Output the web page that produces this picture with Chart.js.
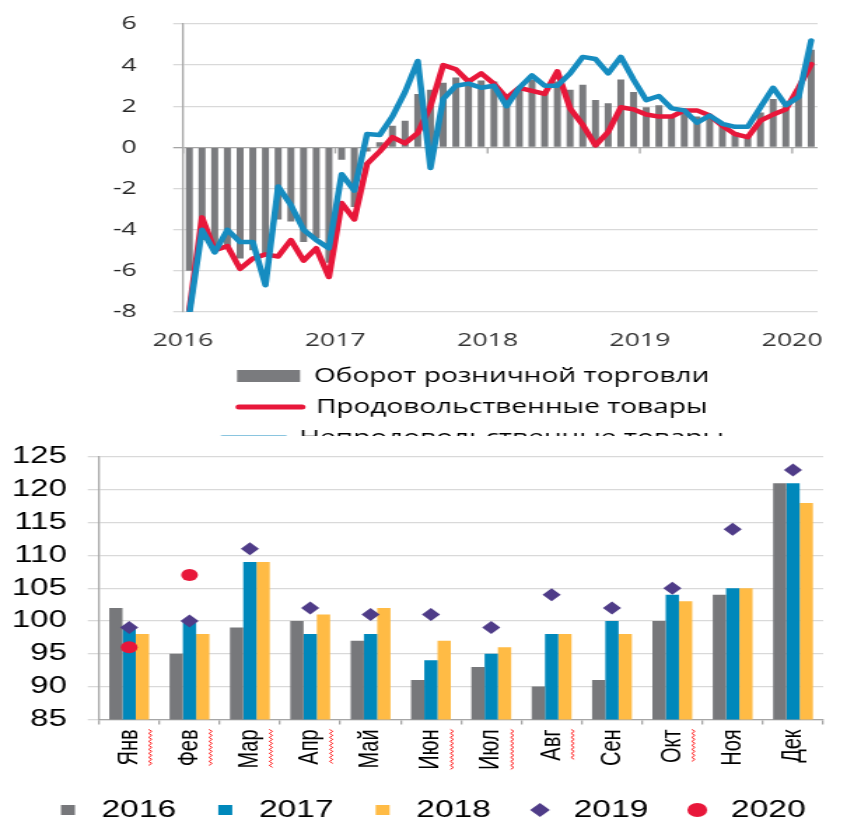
<!DOCTYPE html>
<html lang="ru">
<head>
  <meta charset="UTF-8">
  <title>Оборот розничной торговли</title>
  <script src="https://cdn.jsdelivr.net/npm/chart.js"></script>
  <style>
    html, body { margin: 0; padding: 0; background: #fff; overflow: hidden; }
    .wrap { position: absolute; left: 0; width: 605px; overflow: hidden; transform: scaleX(1.4); transform-origin: 0 0; }
    #top-wrap { top: 0; height: 436px; }
    #bottom-wrap { top: 436px; height: 387px; }
    canvas { display: block; }
  </style>
</head>
<body>
  <div class="wrap" id="top-wrap"><canvas id="trade-chart" width="605" height="458"></canvas></div>
  <div class="wrap" id="bottom-wrap"><canvas id="month-chart" width="605" height="396"></canvas></div>
  <script>
    // --- top chart: y/y change, % (Jan 2016 .. Feb 2020)
    const yearLabels = ['2016', '2017', '2018', '2019', '2020'];
    const yearStarts = [0, 12, 24, 36, 48];
    const tradeTicks = [-8, -6, -4, -2, 0, 2, 4, 6];
    const tradeNames = ['Оборот розничной торговли', 'Продовольственные товары', 'Непродовольственные товары'];
    const retail = [-6.0, -4.5, -5.0, -4.8, -5.4, -5.0, -5.3, -3.5, -3.6, -4.6, -4.4, -5.6,
      -0.6, -2.9, -0.2, 0.25, 1.05, 1.3, 2.6, 2.8, 3.15, 3.4, 3.25, 3.25,
      3.2, 2.5, 2.9, 3.3, 2.7, 3.2, 2.8, 3.05, 2.3, 2.15, 3.3, 2.7,
      1.95, 2.05, 1.5, 1.8, 1.5, 1.45, 1.05, 0.75, 0.55, 1.7, 2.35, 2.0,
      2.6, 4.75];
    const food = [-7.9, -3.4, -5.0, -4.8, -5.9, -5.4, -5.2, -5.3, -4.5, -5.5, -4.9, -6.3,
      -2.7, -3.5, -0.8, -0.2, 0.5, 0.2, 0.7, 2.0, 4.0, 3.8, 3.2, 3.6,
      3.1, 2.4, 2.9, 2.75, 2.6, 3.7, 1.9, 1.1, 0.1, 0.75, 1.95, 1.85,
      1.6, 1.5, 1.5, 1.8, 1.8, 1.55, 1.05, 0.65, 0.5, 1.3, 1.6, 1.85,
      2.9, 4.05];
    const nonFood = [-8.1, -4.0, -5.1, -4.0, -4.6, -4.6, -6.7, -1.9, -2.8, -4.0, -4.5, -4.9,
      -1.3, -2.1, 0.65, 0.6, 1.5, 2.7, 4.2, -1.0, 2.35, 3.0, 3.1, 2.9,
      3.0, 2.0, 2.9, 3.5, 3.0, 3.0, 3.6, 4.4, 4.3, 3.6, 4.4, 3.3,
      2.3, 2.5, 1.9, 1.8, 1.2, 1.55, 1.15, 1.0, 1.0, 1.95, 2.9, 2.05,
      2.45, 5.2];

    // --- bottom chart: index by month
    const months = ['Янв', 'Фев', 'Мар', 'Апр', 'Май', 'Июн', 'Июл', 'Авг', 'Сен', 'Окт', 'Ноя', 'Дек'];
    const spellMarked = ['Янв', 'Фев', 'Мар', 'Апр', 'Июн', 'Июл', 'Авг', 'Окт'];
    const monthTicks = [85, 90, 95, 100, 105, 110, 115, 120, 125];
    const idx2016 = [102, 95, 99, 100, 97, 91, 93, 90, 91, 100, 104, 121];
    const idx2017 = [99, 100, 109, 98, 98, 94, 95, 98, 100, 104, 105, 121];
    const idx2018 = [98, 98, 109, 101, 102, 97, 96, 98, 98, 103, 105, 118];
    const idx2019 = [99, 100, 111, 102, 101, 101, 99, 104, 102, 105, 114, 123];
    const idx2020 = [96, 107, null, null, null, null, null, null, null, null, null, null];

    const topFont = '"Open Sans", sans-serif';
    const botFont = '"Liberation Sans", Arial, sans-serif';
    const toPoints = arr => arr.map((v, i) => ({ x: i + 0.5, y: v }));

    const yearMarks = {
      id: 'yearMarks',
      beforeDatasetsDraw(chart) {
        const { ctx, scales: { x, y } } = chart;
        const y0 = y.getPixelForValue(0);
        ctx.save();
        ctx.strokeStyle = '#a5a5a5';
        ctx.lineWidth = 1.3;
        yearStarts.forEach(v => {
          const px = x.getPixelForValue(v);
          ctx.beginPath();
          ctx.moveTo(px, y0);
          ctx.lineTo(px, y0 + 6);
          ctx.stroke();
        });
        ctx.restore();
      }
    };

    // the legends are not centred in the original
    const legendShift = dx => ({
      id: 'legendShift',
      afterLayout(chart) {
        chart.legend.left += dx;
        chart.legend.right += dx;
      }
    });

    new Chart(document.getElementById('trade-chart'), {
      type: 'bar',
      data: {
        datasets: [
          { type: 'bar', label: tradeNames[0], data: toPoints(retail), backgroundColor: '#7a7b7e',
            barPercentage: 0.55, categoryPercentage: 1, order: 3 },
          { type: 'line', label: tradeNames[1], data: toPoints(food), borderColor: '#e8173a', borderWidth: 4.5,
            pointRadius: 0, tension: 0, borderJoinStyle: 'round', borderCapStyle: 'round', order: 2 },
          { type: 'line', label: tradeNames[2], data: toPoints(nonFood), borderColor: '#168cc0', borderWidth: 4.5,
            pointRadius: 0, tension: 0, borderJoinStyle: 'round', borderCapStyle: 'round', order: 1 }
        ]
      },
      options: {
        responsive: false,
        animation: false,
        layout: { padding: { left: 0, right: 11, top: 24, bottom: 0 } },
        plugins: {
          tooltip: { enabled: false },
          legend: {
            position: 'bottom',
            labels: {
              usePointStyle: true, pointStyleWidth: 45, boxHeight: 12, padding: 11,
              color: '#262626', font: { family: topFont, size: 20 },
              generateLabels: chart => chart.data.datasets.map((ds, i) => ({
                text: ds.label,
                fillStyle: ds.type === 'line' ? ds.borderColor : ds.backgroundColor,
                strokeStyle: ds.type === 'line' ? ds.borderColor : ds.backgroundColor,
                lineWidth: ds.type === 'line' ? 5 : 0,
                lineCap: 'round',
                pointStyle: ds.type === 'line' ? 'line' : 'rect',
                hidden: false,
                datasetIndex: i
              }))
            }
          }
        },
        scales: {
          x: {
            type: 'linear', min: 0, max: retail.length, offset: false,
            afterBuildTicks: s => { s.ticks = yearStarts.map(v => ({ value: v })); },
            afterFit: s => { s.height = 43; },
            grid: { display: false, drawTicks: false },
            border: { display: false },
            ticks: { padding: 17, maxRotation: 0, autoSkip: false, color: '#333',
              font: { family: topFont, size: 19 }, callback: (v, i) => yearLabels[i] }
          },
          y: {
            min: -8, max: 6,
            afterBuildTicks: s => { s.ticks = tradeTicks.map(v => ({ value: v })); },
            afterFit: s => { s.width = 130.7; s.paddingTop = 12; s.paddingBottom = 12; },
            grid: { color: c => (c.tick && c.tick.value === 0 ? '#a5a5a5' : '#d9d9d9'), lineWidth: 1.3, tickLength: 7 },
            border: { color: '#a5a5a5', width: 1.3 },
            ticks: { padding: 26, autoSkip: false, color: '#262626', font: { family: topFont, size: 19 } }
          }
        }
      },
      plugins: [yearMarks, legendShift(41)]
    });

    // red wavy spell-check underline next to some month labels
    const spellMarks = {
      id: 'spellMarks',
      afterDraw(chart) {
        const { ctx, scales: { x } } = chart;
        const o = x.options;
        ctx.save();
        ctx.font = o.ticks.font.size + 'px ' + botFont;
        ctx.strokeStyle = '#ff1a1a';
        ctx.lineWidth = 1;
        months.forEach((m, i) => {
          if (!spellMarked.includes(m)) return;
          const px = x.getPixelForTick(i) + 15;
          const y0 = x.top + o.grid.tickLength + o.ticks.padding;
          const len = ctx.measureText(m).width;
          ctx.beginPath();
          for (let t = 0, n = 0; t <= len; t += 2, n++) {
            const xx = px + (n % 2 ? 1.1 : -1.1);
            if (t === 0) ctx.moveTo(xx, y0 + t); else ctx.lineTo(xx, y0 + t);
          }
          ctx.stroke();
        });
        ctx.restore();
      }
    };

    const legendShapes = ['rect', 'rect', 'rect', 'rectRot', 'circle'];

    new Chart(document.getElementById('month-chart'), {
      type: 'bar',
      data: {
        labels: months,
        datasets: [
          { label: '2016', data: idx2016, backgroundColor: '#77787b', order: 2 },
          { label: '2017', data: idx2017, backgroundColor: '#0088bb', order: 2 },
          { label: '2018', data: idx2018, backgroundColor: '#ffbb45', order: 2 },
          { type: 'line', label: '2019', data: idx2019, showLine: false, pointStyle: 'rectRot', pointRadius: 6.5,
            pointBorderWidth: 0, backgroundColor: '#4f3c88', borderColor: '#4f3c88', order: 1 },
          { type: 'line', label: '2020', data: idx2020, showLine: false, pointStyle: 'circle', pointRadius: 6,
            pointBorderWidth: 0, backgroundColor: '#e8173a', borderColor: '#e8173a', order: 1 }
        ]
      },
      options: {
        responsive: false,
        animation: false,
        datasets: { bar: { barPercentage: 1, categoryPercentage: 0.66 } },
        layout: { padding: { left: 0, right: 17, top: 21, bottom: 0 } },
        plugins: {
          tooltip: { enabled: false },
          legend: {
            position: 'bottom',
            labels: {
              usePointStyle: true, boxWidth: 24, boxHeight: 10, padding: 23,
              color: '#000', font: { family: botFont, size: 24 },
              generateLabels: chart => chart.data.datasets.map((ds, i) => ({
                text: ds.label, fillStyle: ds.backgroundColor, strokeStyle: ds.backgroundColor,
                lineWidth: 0, pointStyle: legendShapes[i], hidden: false, datasetIndex: i
              }))
            }
          }
        },
        scales: {
          x: {
            offset: true,
            grid: { offset: true, drawOnChartArea: false, drawTicks: true, tickLength: 5, color: '#a6a6a6', lineWidth: 1.3 },
            border: { color: '#a6a6a6', width: 1.3 },
            ticks: { minRotation: 90, maxRotation: 90, autoSkip: false, padding: 5, color: '#000',
              font: { family: botFont, size: 20 } }
          },
          y: {
            min: 85, max: 125,
            afterBuildTicks: s => { s.ticks = monthTicks.map(v => ({ value: v })); },
            afterFit: s => { s.width = 70.7; s.paddingTop = 14; s.paddingBottom = 14; },
            grid: { color: '#d9d9d9', lineWidth: 1.3, tickLength: 8 },
            border: { color: '#a6a6a6', width: 1.3 },
            ticks: { padding: 15, autoSkip: false, color: '#000', font: { family: botFont, size: 23.5 } }
          }
        }
      },
      plugins: [spellMarks, legendShift(12)]
    });
  </script>
</body>
</html>
